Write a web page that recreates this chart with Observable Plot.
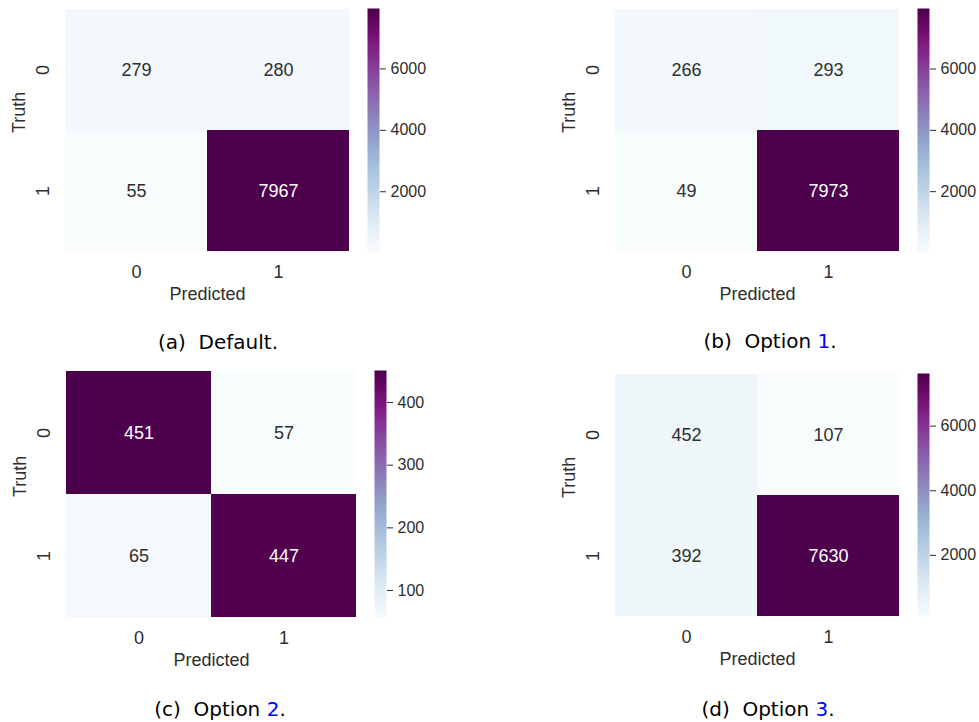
<!DOCTYPE html>
<html>
<head>
<meta charset="utf-8">
<script src="https://cdn.jsdelivr.net/npm/d3@7"></script>
<script src="https://cdn.jsdelivr.net/npm/@observablehq/plot@0.6"></script>
<style>
  html, body { margin: 0; padding: 0; background: #fff; overflow: hidden; }
  #figure { position: relative; width: 979px; height: 722px; }
  #figure svg { position: absolute; }
  .caption {
    position: absolute; width: 300px; text-align: center;
    font: 20px "DejaVu Sans", sans-serif; line-height: 20px;
    color: #000; white-space: pre;
  }
  .caption .ref { color: #0000ff; }
</style>
</head>
<body>
<div id="figure"></div>
<script>
// Class labels of the confusion matrices
const truthLabels = ["0", "1"];
const predictedLabels = ["0", "1"];

// Confusion matrices, rows = truth, columns = predicted
const cmDefault = [[279, 280], [55, 7967]];
const cmOption1 = [[266, 293], [49, 7973]];
const cmOption2 = [[451, 57], [65, 447]];
const cmOption3 = [[452, 107], [392, 7630]];

// Colorbar tick values
const barTicksDefault = [2000, 4000, 6000];
const barTicksOption1 = [2000, 4000, 6000];
const barTicksOption2 = [100, 200, 300, 400];
const barTicksOption3 = [2000, 4000, 6000];

// Sub-captions
const captionTags = ["(a)", "(b)", "(c)", "(d)"];
const captionNames = ["Default", "Option", "Option", "Option"];
const captionRefs = ["", "1", "2", "3"];

const FONT = '"Liberation Sans", Arial, Helvetica, sans-serif';
const INK = "#2e2e2e";
const figure = document.getElementById("figure");

function place(node, left, top) {
  node.style.left = left + "px";
  node.style.top = top + "px";
  figure.appendChild(node);
}

function confusionPanel(matrix, barTicks, g) {
  const cells = [];
  truthLabels.forEach((t, i) =>
    predictedLabels.forEach((p, j) => cells.push({truth: t, predicted: p, count: matrix[i][j]}))
  );
  const lo = d3.min(cells, d => d.count);
  const hi = d3.max(cells, d => d.count);
  const color = {type: "linear", scheme: "bupu", domain: [lo, hi]};
  const style = {fontFamily: FONT, color: INK, background: "transparent", overflow: "visible"};

  const heat = Plot.plot({
    width: 360, height: 310,
    marginLeft: g.ml, marginRight: g.mr, marginTop: g.mt, marginBottom: g.mb,
    style,
    x: {domain: predictedLabels, padding: 0, label: null},
    y: {domain: truthLabels, padding: 0, label: null},
    color,
    marks: [
      Plot.cell(cells, {x: "predicted", y: "truth", fill: "count"}),
      Plot.text(cells, {
        x: "predicted", y: "truth", text: d => String(d.count), fontSize: 18,
        fill: d => (d.count - lo) / (hi - lo) > 0.5 ? "white" : INK
      }),
      Plot.axisX({tickSize: 0, tickPadding: 14, fontSize: 18, label: null}),
      Plot.axisY({tickSize: 0, tickPadding: 22, tickRotate: -90, textAnchor: "middle", lineAnchor: "middle", fontSize: 18, label: null}),
      Plot.text(["Predicted"], {text: d => d, frameAnchor: "bottom", dy: 36, lineAnchor: "top", fontSize: 18, fill: INK}),
      Plot.text(["Truth"], {text: d => d, frameAnchor: "left", dx: -46, dy: 3, rotate: -90, fontSize: 18, fill: INK})
    ]
  });
  place(heat, g.left, g.top);

  const bar = Plot.plot({
    width: g.bw, height: 310,
    marginLeft: 7, marginRight: g.bw - 19, marginTop: g.mt, marginBottom: g.mb,
    style,
    x: {domain: [0, 1], axis: null},
    y: {domain: [lo, hi], label: null},
    color,
    marks: [
      Plot.raster({x1: 0, x2: 1, y1: lo, y2: hi, fill: (x, y) => y}),
      Plot.axisY({anchor: "right", ticks: barTicks, tickSize: 6, tickPadding: 5, fontSize: 16, tickFormat: d3.format("d"), label: null})
    ]
  });
  place(bar, g.barLeft, g.top);
}

function caption(i, centerX, top) {
  const div = document.createElement("div");
  div.className = "caption";
  div.appendChild(document.createTextNode(captionTags[i] + "  " + captionNames[i] + (captionRefs[i] ? " " : "")));
  if (captionRefs[i]) {
    const ref = document.createElement("span");
    ref.className = "ref";
    ref.textContent = captionRefs[i];
    div.appendChild(ref);
  }
  div.appendChild(document.createTextNode("."));
  place(div, centerX - 150, top);
}

confusionPanel(cmDefault, barTicksDefault, {left: 0, top: 0, ml: 65, mr: 11, mt: 8, mb: 59, barLeft: 360, bw: 80});
confusionPanel(cmOption1, barTicksOption1, {left: 550, top: 0, ml: 65, mr: 11, mt: 8, mb: 59, barLeft: 910, bw: 69});
confusionPanel(cmOption2, barTicksOption2, {left: 0, top: 362, ml: 66, mr: 4, mt: 8, mb: 55, barLeft: 367, bw: 80});
confusionPanel(cmOption3, barTicksOption3, {left: 550, top: 362, ml: 65, mr: 11, mt: 11, mb: 56, barLeft: 910, bw: 69});

caption(0, 218, 332);
caption(1, 770, 331);
caption(2, 220, 699);
caption(3, 768, 699);
</script>
</body>
</html>
